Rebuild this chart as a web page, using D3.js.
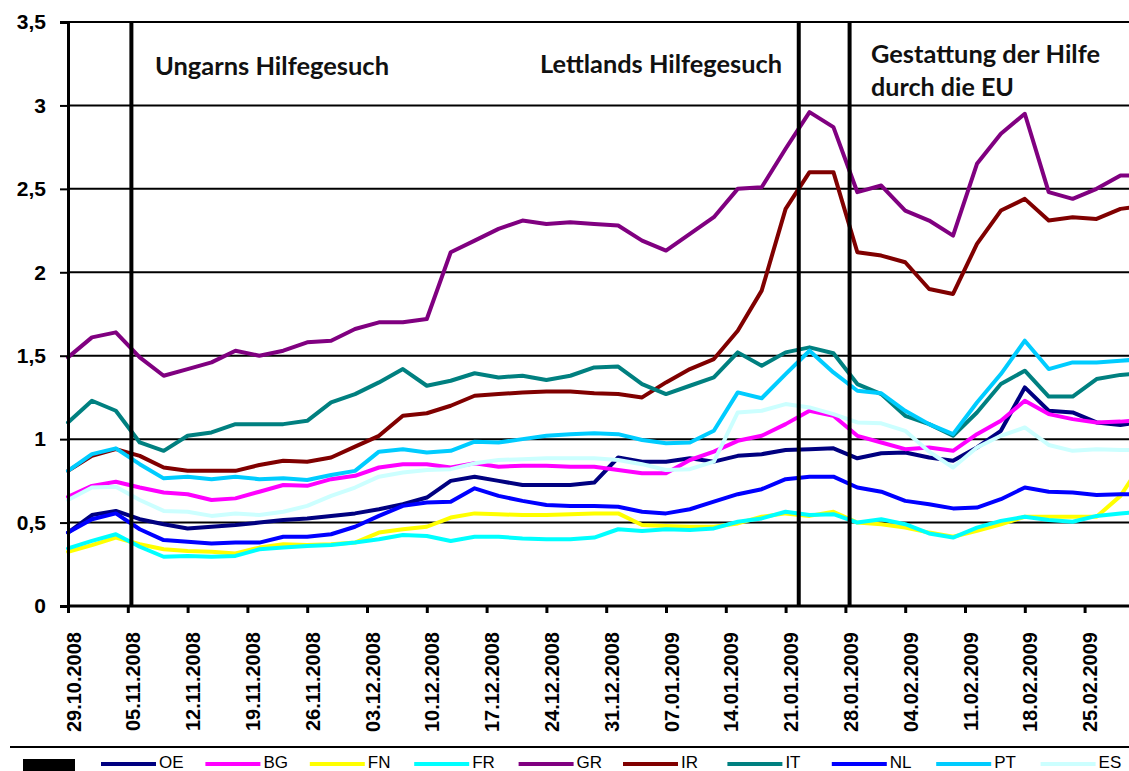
<!DOCTYPE html>
<html>
<head>
<meta charset="utf-8">
<script src="https://cdn.jsdelivr.net/npm/d3@7"></script>
<style>
  html, body { margin: 0; padding: 0; background: #fff; }
  svg { display: block; }
</style>
</head>
<body>
<svg id="chart" width="1129" height="771"></svg>
<script>
// ---------- data ----------
const days = [0,2,4,6,8,10,12,14,16,18,20,22,24,26,28,30,32,34,36,38,40,42,44,46,48,50,52,54,56,58,60,62,64,66,68,70,72,74,76,78,80,82,84,86,88,89];

const tickDays = [0,5,10,15,20,25,30,35,40,45,50,55,60,65,70,75,80,85];
const tickLabels = ["29.10.2008","05.11.2008","12.11.2008","19.11.2008","26.11.2008","03.12.2008","10.12.2008","17.12.2008","24.12.2008","31.12.2008","07.01.2009","14.01.2009","21.01.2009","28.01.2009","04.02.2009","11.02.2009","18.02.2009","25.02.2009"];
const yTicks = [0,0.5,1,1.5,2,2.5,3,3.5];

const seriesNames = ["OE","BG","FN","FR","GR","IR","IT","NL","PT","ES"];
const seriesColors = ["#000080","#FF00FF","#FFFF00","#00FFFF","#800080","#800000","#008080","#0000FF","#00CCFF","#CCFFFF"];

const OE = [0.44,0.545,0.57,0.52,0.49,0.465,0.475,0.485,0.50,0.515,0.525,0.54,0.555,0.58,0.61,0.65,0.75,0.775,0.75,0.725,0.725,0.725,0.74,0.89,0.865,0.865,0.885,0.865,0.90,0.91,0.935,0.94,0.945,0.885,0.915,0.92,0.89,0.87,0.95,1.05,1.31,1.17,1.16,1.10,1.085,1.095];
const BG = [0.655,0.72,0.745,0.71,0.68,0.67,0.635,0.645,0.685,0.725,0.72,0.76,0.78,0.83,0.85,0.85,0.83,0.855,0.835,0.84,0.84,0.835,0.835,0.815,0.795,0.795,0.875,0.925,0.99,1.02,1.09,1.17,1.14,1.02,0.98,0.94,0.95,0.93,1.03,1.11,1.23,1.15,1.12,1.10,1.105,1.11];
const FN = [0.325,0.365,0.41,0.37,0.34,0.33,0.325,0.315,0.35,0.37,0.365,0.37,0.38,0.44,0.46,0.475,0.53,0.555,0.55,0.545,0.545,0.55,0.555,0.555,0.485,0.48,0.475,0.475,0.495,0.535,0.555,0.54,0.565,0.50,0.49,0.47,0.44,0.415,0.45,0.49,0.535,0.535,0.535,0.535,0.66,0.77];
const FR = [0.345,0.39,0.43,0.355,0.295,0.30,0.295,0.30,0.34,0.35,0.36,0.365,0.38,0.40,0.425,0.42,0.39,0.415,0.415,0.405,0.40,0.40,0.41,0.46,0.45,0.46,0.455,0.465,0.505,0.525,0.565,0.545,0.55,0.50,0.52,0.49,0.435,0.41,0.47,0.51,0.535,0.515,0.505,0.54,0.555,0.56];
const GR = [1.49,1.61,1.64,1.49,1.38,1.42,1.46,1.53,1.50,1.53,1.58,1.59,1.66,1.70,1.70,1.72,2.12,2.19,2.26,2.31,2.29,2.30,2.29,2.28,2.19,2.13,2.23,2.33,2.50,2.51,2.74,2.96,2.87,2.48,2.52,2.37,2.31,2.22,2.65,2.83,2.95,2.48,2.44,2.50,2.58,2.58];
const IR = [0.81,0.90,0.94,0.90,0.83,0.81,0.81,0.81,0.845,0.87,0.865,0.89,0.955,1.02,1.14,1.155,1.20,1.26,1.27,1.28,1.285,1.285,1.275,1.27,1.25,1.34,1.42,1.48,1.65,1.89,2.38,2.60,2.60,2.12,2.10,2.06,1.90,1.87,2.17,2.37,2.44,2.31,2.33,2.32,2.38,2.39];
const IT = [1.10,1.23,1.17,0.98,0.93,1.02,1.04,1.09,1.09,1.09,1.11,1.22,1.27,1.34,1.42,1.32,1.35,1.395,1.37,1.38,1.355,1.38,1.43,1.435,1.33,1.27,1.32,1.37,1.52,1.44,1.52,1.55,1.515,1.33,1.27,1.14,1.09,1.02,1.16,1.33,1.41,1.255,1.255,1.36,1.385,1.39];
const NL = [0.44,0.52,0.555,0.46,0.395,0.385,0.375,0.38,0.38,0.415,0.415,0.43,0.475,0.54,0.60,0.62,0.625,0.705,0.66,0.63,0.605,0.60,0.60,0.595,0.565,0.555,0.58,0.625,0.67,0.70,0.76,0.775,0.775,0.71,0.685,0.63,0.61,0.585,0.59,0.64,0.71,0.685,0.68,0.665,0.67,0.67];
const PT = [0.81,0.91,0.945,0.85,0.765,0.775,0.76,0.775,0.76,0.765,0.755,0.785,0.81,0.925,0.94,0.92,0.93,0.985,0.98,1.00,1.02,1.03,1.035,1.03,0.995,0.975,0.98,1.05,1.28,1.245,1.39,1.53,1.40,1.29,1.275,1.17,1.09,1.03,1.22,1.39,1.59,1.42,1.46,1.46,1.47,1.475];
const ES = [0.635,0.71,0.715,0.635,0.57,0.565,0.54,0.555,0.545,0.565,0.60,0.66,0.71,0.775,0.80,0.815,0.82,0.855,0.875,0.88,0.885,0.885,0.885,0.875,0.85,0.815,0.82,0.865,1.16,1.17,1.21,1.19,1.15,1.10,1.095,1.05,0.925,0.83,0.95,1.02,1.07,0.965,0.93,0.94,0.935,0.935];

const eventDays = [5.3, 61.1, 65.35];
const eventLabels = [["Ungarns Hilfegesuch"], ["Lettlands Hilfegesuch"], ["Gestattung der Hilfe", "durch die EU"]];

// ---------- build ----------
(function () {
const seriesValues = [OE, BG, FN, FR, GR, IR, IT, NL, PT, ES];
const series = seriesNames.map((n, k) => ({
  name: n, color: seriesColors[k],
  points: days.map((d, i) => ({ d: d, v: seriesValues[k][i] }))
}));

const W = 1129, H = 771;
const plotLeft = 68, plotTop = 22, plotBottom = 606;
const x = d3.scaleLinear().domain([0, 90]).range([plotLeft, plotLeft + 11.96 * 90]);
const y = d3.scaleLinear().domain([0, 3.5]).range([plotBottom, plotTop]);

const svg = d3.select("#chart");
svg.append("rect").attr("width", W).attr("height", H).attr("fill", "#fff");

// gridlines
svg.append("g").selectAll("line").data(yTicks.filter(v => v > 0)).join("line")
  .attr("x1", plotLeft).attr("x2", W).attr("y1", d => y(d)).attr("y2", d => y(d))
  .attr("stroke", "#000").attr("stroke-width", 2);

// data lines
const line = d3.line().x(p => x(p.d)).y(p => y(p.v));
svg.append("g").selectAll("path").data(series).join("path")
  .attr("d", s => line(s.points))
  .attr("fill", "none").attr("stroke", s => s.color)
  .attr("stroke-width", 4).attr("stroke-linejoin", "round").attr("stroke-linecap", "round");

// event lines
svg.append("g").selectAll("line").data(eventDays).join("line")
  .attr("x1", d => x(d)).attr("x2", d => x(d)).attr("y1", y(3.5)).attr("y2", y(0))
  .attr("stroke", "#000").attr("stroke-width", 4);

// y axis
const yAxis = svg.append("g").attr("transform", `translate(${plotLeft},0)`)
  .call(d3.axisLeft(y).tickValues(yTicks).tickSize(8).tickPadding(14)
    .tickFormat(d => String(d).replace(".", ",")));
yAxis.select(".domain").attr("stroke", "#000").attr("stroke-width", 3);
yAxis.selectAll(".tick line").attr("stroke", "#000").attr("stroke-width", 2);
yAxis.selectAll(".tick text").attr("font-family", "Liberation Sans, Arial, sans-serif")
  .attr("font-weight", "bold").attr("font-size", 21).attr("fill", "#000");

// x axis
const xAxis = svg.append("g").attr("transform", `translate(0,${plotBottom})`)
  .call(d3.axisBottom(x).tickValues(tickDays).tickSize(7)
    .tickFormat((d, i) => tickLabels[i]));
xAxis.select(".domain").attr("stroke", "#000").attr("stroke-width", 3)
  .attr("d", `M${plotLeft},0H${W}`);
xAxis.selectAll(".tick line").attr("stroke", "#000").attr("stroke-width", 3);
xAxis.selectAll(".tick text")
  .attr("font-family", "Liberation Sans, Arial, sans-serif")
  .attr("font-weight", "bold").attr("font-size", 20).attr("fill", "#000")
  .attr("transform", "rotate(-90)")
  .attr("text-anchor", "end")
  .attr("x", -26).attr("y", 12).attr("dy", null);

// annotations
const annPos = [[{x:155,y:75,w:234}], [{x:540,y:73,w:242}], [{x:871,y:63,w:229},{x:871,y:96,w:143}]];
eventLabels.forEach((lines, k) => {
  lines.forEach((t, j) => {
    const p = annPos[k][j];
    svg.append("text").attr("x", p.x).attr("y", p.y)
      .attr("font-family", "Lato, Open Sans, sans-serif").attr("font-weight", 700)
      .attr("font-size", 25).attr("fill", "#111")
      .attr("textLength", p.w).attr("lengthAdjust", "spacingAndGlyphs")
      .text(t);
  });
});

// legend
svg.append("line").attr("x1", 10).attr("x2", W).attr("y1", 747).attr("y2", 747)
  .attr("stroke", "#000").attr("stroke-width", 2);
svg.append("rect").attr("x", 23).attr("y", 759).attr("width", 52).attr("height", 12).attr("fill", "#000");
const leg = svg.append("g").selectAll("g").data(series).join("g")
  .attr("transform", (s, k) => `translate(${101 + k * 104.4},0)`);
leg.append("line").attr("x1", 0).attr("x2", 55).attr("y1", 764).attr("y2", 764)
  .attr("stroke", s => s.color).attr("stroke-width", 4);
leg.append("text").attr("x", 58).attr("y", 768)
  .attr("font-family", "Liberation Sans, Arial, sans-serif").attr("font-size", 17)
  .attr("fill", "#000").text(s => s.name);
})();
</script>
</body>
</html>
